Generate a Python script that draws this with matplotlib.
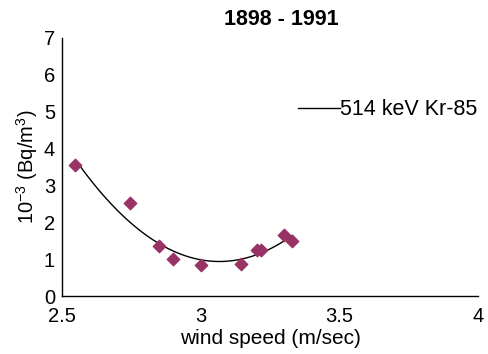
import numpy as np
import matplotlib
matplotlib.use("Agg")
import matplotlib.pyplot as plt

plt.rcParams['font.family'] = ['Liberation Sans', 'DejaVu Sans']
plt.rcParams['mathtext.fontset'] = 'custom'
plt.rcParams['mathtext.rm'] = 'Liberation Sans'
plt.rcParams['mathtext.it'] = 'Liberation Sans'
plt.rcParams['mathtext.default'] = 'regular'

wind = [2.547, 2.745, 2.85, 2.90, 3.00, 3.147, 3.203, 3.217, 3.30, 3.33]
conc = [3.55, 2.51, 1.36, 1.00, 0.83, 0.88, 1.25, 1.25, 1.65, 1.49]
title = "1898 - 1991"
series_name = "514 keV Kr-85"

fig = plt.figure(figsize=(4.89, 3.54), dpi=100)
ax = fig.add_axes([0.1268, 0.1638, 0.8507, 0.7289])

coef = np.polyfit(wind, conc, 2)
xs = np.linspace(2.55, 3.33, 100)
ax.plot(xs, np.polyval(coef, xs), color='black', lw=1.0, label=series_name)
ax.scatter(wind, conc, marker='D', s=40, color='#993366', zorder=3)

ax.set_xlim(2.5, 4)
ax.set_ylim(0, 7)
ax.set_xticks([2.5, 3, 3.5, 4])
ax.set_xticklabels(['2.5', '3', '3.5', '4'])
ax.set_yticks(range(0, 8))
ax.tick_params(length=0, labelsize=14.5)
ax.tick_params(axis='x', pad=8)
ax.tick_params(axis='y', pad=5)
for s in ['top', 'right']:
    ax.spines[s].set_visible(False)
ax.spines['left'].set_linewidth(1.0)
ax.spines['bottom'].set_linewidth(1.0)

ax.set_xlabel("wind speed (m/sec)", fontsize=15, labelpad=2)
ax.set_ylabel(r"10$^{-3}$ (Bq/m$^{3}$)", fontsize=14.5, labelpad=3)
ax.set_title(title, fontsize=15.5, fontweight='bold', pad=9, x=0.526)

fig.legend(*ax.get_legend_handles_labels(), loc='center left',
           bbox_to_anchor=(0.609, 0.69), frameon=False,
           fontsize=15.5, handlelength=1.95, handletextpad=0.0,
           borderpad=0, borderaxespad=0)

fig.savefig("out.png", dpi=100)
